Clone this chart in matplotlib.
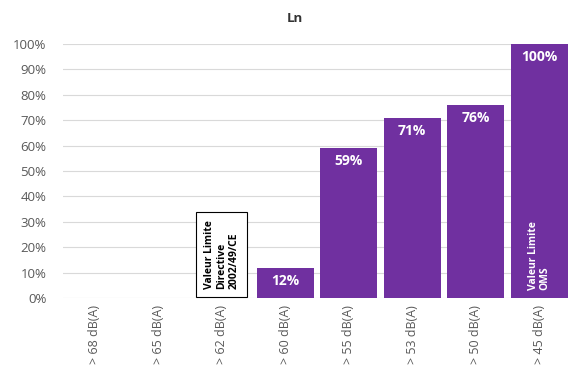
import numpy as np
import matplotlib.pyplot as plt

plt.rcParams['font.family'] = ['Open Sans', 'DejaVu Sans']

categories = ['> 68 dB(A)', '> 65 dB(A)', '> 62 dB(A)', '> 60 dB(A)',
              '> 55 dB(A)', '> 53 dB(A)', '> 50 dB(A)', '> 45 dB(A)']
values = [0, 0, 0, 12, 59, 71, 76, 100]
directive_idx = 2
oms_idx = 7

purple = '#7030A0'

fig = plt.figure(figsize=(5.68, 3.74), dpi=100)
ax = fig.add_axes([63 / 568, 76 / 374, 1 - 60 / 568, (298 - 44) / 374])

x = np.arange(len(categories))
bars = ax.bar(x, values, width=0.9, color=purple, zorder=3)

for xi, v in zip(x, values):
    if v > 0:
        ax.text(xi, v - 2.5, f'{v}%', ha='center', va='top', color='white',
                fontsize=10, fontweight='bold', zorder=4)

ax.text(directive_idx, 3.5, 'Valeur Limite\nDirective\n2002/49/CE', rotation=90,
        ha='center', va='bottom', multialignment='left', fontsize=7.5,
        fontweight='bold', color='black', linespacing=1.15, zorder=5,
        bbox=dict(boxstyle='square,pad=0.75', fc='white', ec='black', lw=0.8))
ax.text(oms_idx, 3, 'Valeur Limite\nOMS', rotation=90, ha='center', va='bottom',
        multialignment='left', fontsize=7.5, fontweight='bold', color='white',
        linespacing=1.15, zorder=5)

ax.set_xlim(-0.5, len(categories) - 0.5)
ax.set_ylim(0, 100)
ax.set_yticks(np.arange(0, 101, 10))
ax.set_yticklabels([f'{t}%' for t in range(0, 101, 10)])
ax.set_xticks(x)
ax.set_xticklabels(categories, rotation=90)
ax.tick_params(axis='both', length=0, colors='#595959', labelsize=9.5)
ax.tick_params(axis='y', pad=12)
ax.tick_params(axis='x', pad=5, labelsize=9)
ax.grid(axis='y', color='#d9d9d9', lw=0.8, zorder=0)
for s in ax.spines.values():
    s.set_visible(False)

fig.text(295 / 568, 1 - 18 / 374, 'Ln', ha='center', va='center',
         fontsize=9.5, fontweight='bold', color='#333333')

fig.savefig('out.png', dpi=100)
